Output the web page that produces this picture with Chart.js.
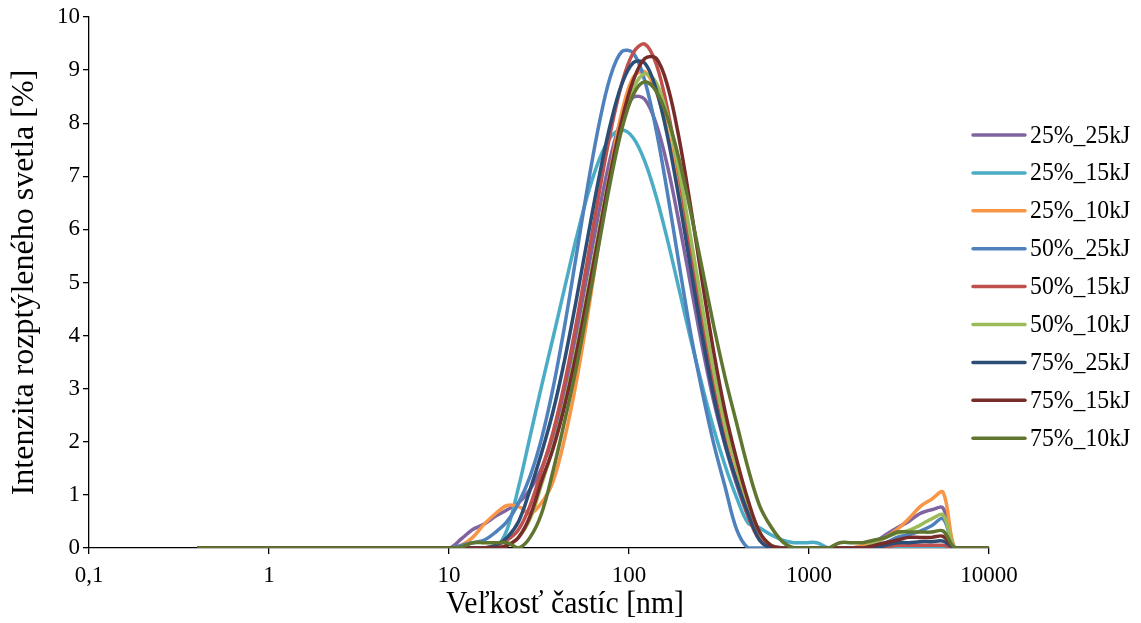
<!DOCTYPE html>
<html><head><meta charset="utf-8">
<script src="https://cdn.jsdelivr.net/npm/chart.js@4.4.1/dist/chart.umd.min.js"></script>
<style>html,body{margin:0;padding:0;background:#fff;}#wrap{width:1141px;height:623px;position:relative;}</style>
</head><body><div id="wrap"><canvas id="c"></canvas></div>
<script>
// particle size bins [nm]
const sizes = [0.4,0.4632,0.5365,0.6213,0.7195,0.8332,0.9649,1.117,1.294,1.499,1.736,2.01,2.328,2.696,3.122,3.615,4.187,4.849,5.615,6.503,7.531,8.721,10.1,11.7,13.54,15.69,18.17,21.04,24.36,28.21,32.67,37.84,43.82,50.75,58.77,68.06,78.82,91.28,105.7,122.4,141.8,164.2,190.1,220.2,255,295.3,342,396.1,458.7,531.2,615.1,712.4,825,955.4,1106,1281,1484,1718,1990,2305,2669,3091,3580,4145,4801,5560,6439,7456,8635,10000];

const seriesNames = ['25%_25kJ','25%_15kJ','25%_10kJ','50%_25kJ','50%_15kJ','50%_10kJ','75%_25kJ','75%_15kJ','75%_10kJ'];

const s25_25kJ = [0,0,0,0,0,0,0,0,0,0,0,0,0,0,0,0,0,0,0,0,0,0,
 0,0.17,0.35,0.45,0.6,0.72,0.85,1.1,1.5,2.1,2.96,4.01,5.17,6.32,7.35,8.11,8.49,8.45,7.98,7.17,6.11,4.95,3.8,2.77,1.93,1.2,0.6,0.2,0.05,0,0,0,0,0,0,0,0,0.1,0.25,0.38,0.5,0.65,0.72,0.75,0,0,0,0];
const s25_15kJ = [0,0,0,0,0,0,0,0,0,0,0,0,0,0,0,0,0,0,0,0,0,0,
 0,0,0,0,0,0.35,1.15,2.1,3.05,3.96,4.89,5.81,6.64,7.3,7.73,7.87,7.72,7.28,6.61,5.78,4.86,3.93,3.06,2.25,1.55,0.95,0.47,0.38,0.25,0.15,0.1,0.1,0.1,0,0,0,0,0,0,0,0,0,0,0,0,0,0];
const s25_10kJ = [0,0,0,0,0,0,0,0,0,0,0,0,0,0,0,0,0,0,0,0,0,0,
 0,0.05,0.2,0.45,0.65,0.8,0.78,0.65,0.85,1.25,2.05,3.09,4.36,5.75,7.1,8.21,8.87,8.97,8.59,7.81,6.75,5.53,4.31,3.18,2.24,1.49,0.8,0.25,0,0,0,0,0,0,0,0,0.05,0.1,0.2,0.35,0.55,0.78,0.92,1.05,0,0,0,0];
const s50_25kJ = [0,0,0,0,0,0,0,0,0,0,0,0,0,0,0,0,0,0,0,0,0,0,
 0,0.05,0.1,0.15,0.3,0.5,0.85,1.35,2.06,3.01,4.17,5.47,6.79,7.97,8.88,9.35,9.32,8.8,7.86,6.65,5.33,4.04,2.95,1.97,1.15,0.35,0,0,0,0,0,0,0,0,0,0,0,0.05,0.1,0.2,0.25,0.32,0.42,0.55,0,0,0,0];
const s50_15kJ = [0,0,0,0,0,0,0,0,0,0,0,0,0,0,0,0,0,0,0,0,0,0,
 0,0,0,0,0.05,0.15,0.35,0.8,1.46,2.18,3.1,4.2,5.42,6.66,7.82,8.75,9.33,9.49,9.11,8.24,7.02,5.62,4.24,3.01,2.01,1.27,0.6,0.15,0,0,0,0,0,0,0,0,0,0,0.02,0.05,0.05,0.05,0.05,0.05,0,0,0,0];
const s50_10kJ = [0,0,0,0,0,0,0,0,0,0,0,0,0,0,0,0,0,0,0,0,0,0,
 0,0,0,0,0,0.05,0.2,0.55,1.2,1.9,2.72,3.71,4.82,5.98,7.09,8.02,8.66,8.93,8.76,8.11,7.09,5.85,4.55,3.34,2.32,1.52,0.85,0.3,0.05,0,0,0,0,0,0,0,0,0.1,0.2,0.28,0.33,0.43,0.55,0.62,0,0,0,0];
const s75_25kJ = [0,0,0,0,0,0,0,0,0,0,0,0,0,0,0,0,0,0,0,0,0,0,
 0,0,0,0,0.05,0.2,0.5,1.1,1.79,2.57,3.53,4.64,5.82,6.97,7.98,8.74,9.14,9.13,8.63,7.73,6.56,5.27,4.0,2.87,1.96,1.26,0.65,0.15,0,0,0,0,0,0,0,0,0,0,0.05,0.1,0.1,0.12,0.12,0.13,0,0,0,0];
const s75_15kJ = [0,0,0,0,0,0,0,0,0,0,0,0,0,0,0,0,0,0,0,0,0,0,
 0,0,0,0,0,0.05,0.2,0.6,1.26,1.87,2.67,3.63,4.74,5.9,7.05,8.06,8.81,9.22,9.22,8.69,7.7,6.42,5.03,3.7,2.57,1.67,0.9,0.3,0.05,0,0,0,0,0,0,0,0,0.05,0.1,0.15,0.2,0.2,0.2,0.22,0,0,0,0];
const s75_10kJ = [0,0,0,0,0,0,0,0,0,0,0,0,0,0,0,0,0,0,0,0,0,0,
 0,0.02,0.1,0.1,0.1,0.1,0,0.2,0.65,1.45,2.38,3.37,4.51,5.72,6.9,7.89,8.54,8.78,8.6,8.09,7.31,6.33,5.26,4.19,3.21,2.35,1.5,0.8,0.4,0.12,0,0,0,0,0.1,0.1,0.1,0.15,0.2,0.3,0.3,0.3,0.3,0.32,0,0,0,0];

const seriesValues = [s25_25kJ,s25_15kJ,s25_10kJ,s50_25kJ,s50_15kJ,s50_10kJ,s75_25kJ,s75_15kJ,s75_10kJ];
const seriesColors = ['#8064A2','#4BACC6','#F79646','#4F81BD','#C0504D','#9BBB59','#2C4D75','#772C2A','#5F7530'];

const xTickValues = [0.1,1,10,100,1000,10000];
const xTickLabels = ['0,1','1','10','100','1000','10000'];
const xTitle = 'Veľkosť častíc [nm]';
const yTitle = 'Intenzita rozptýleného svetla [%]';

const FONT = '"Liberation Serif", "Times New Roman", serif';

const datasets = seriesNames.map((name, i) => ({
  label: name,
  data: sizes.map((x, j) => ({x: x, y: seriesValues[i][j]})),
  borderColor: seriesColors[i],
  backgroundColor: seriesColors[i],
  borderWidth: 3.5,
  pointRadius: 0,
  tension: 0.35,
  fill: false,
  order: seriesNames.length - i
}));

// legend at the right (overlapping the plot edge, as in the original) + x-axis title
const sideLegend = {
  id: 'sideLegend',
  afterDraw(chart) {
    const ctx = chart.ctx;
    ctx.save();
    chart.data.datasets.forEach((ds, i) => {
      const y = 135 + i * 37.9;
      ctx.strokeStyle = ds.borderColor;
      ctx.lineWidth = 3.5;
      ctx.lineCap = 'round';
      ctx.beginPath();
      ctx.moveTo(973, y);
      ctx.lineTo(1025, y);
      ctx.stroke();
      ctx.save();
      ctx.translate(1030, y + 1);
      ctx.scale(0.95, 1);
      ctx.font = '25px ' + FONT;
      ctx.textBaseline = 'middle';
      ctx.textAlign = 'left';
      ctx.fillStyle = '#000';
      ctx.fillText(ds.label, 0, 0);
      ctx.restore();
    });
    // x-axis title
    ctx.save();
    ctx.translate(565, 605);
    ctx.scale(0.93, 1);
    ctx.font = '32px ' + FONT;
    ctx.textAlign = 'center';
    ctx.textBaseline = 'middle';
    ctx.fillStyle = '#000';
    ctx.fillText(xTitle, 0, 0);
    ctx.restore();
    ctx.restore();
  }
};

new Chart(document.getElementById('c'), {
  type: 'line',
  data: { datasets },
  plugins: [sideLegend],
  options: {
    responsive: true,
    maintainAspectRatio: false,
    animation: false,
    layout: { padding: { left: 0, right: 152, top: 17, bottom: 0 } },
    plugins: { legend: { display: false }, tooltip: { enabled: false } },
    scales: {
      x: {
        type: 'logarithmic',
        min: 0.1,
        max: 10000,
        afterBuildTicks: (axis) => { axis.ticks = xTickValues.map(v => ({ value: v })); },
        afterFit: (s) => { s.height = 75; },
        ticks: {
          autoSkip: false, maxRotation: 0, minRotation: 0, padding: 8,
          color: '#000',
          font: { family: FONT, size: 23 },
          callback: (value, index) => xTickLabels[index]
        },
        grid: { drawOnChartArea: false, drawTicks: true, tickLength: 6, color: '#000', lineWidth: 1.3 },
        border: { display: true, color: '#000', width: 1.3 },
        title: { display: false, text: xTitle }
      },
      y: {
        type: 'linear',
        min: 0,
        max: 10,
        afterFit: (s) => { s.width = 89; },
        ticks: {
          stepSize: 1, padding: 3, color: '#000',
          font: { family: FONT, size: 23 }
        },
        grid: { drawOnChartArea: false, drawTicks: true, tickLength: 6, color: '#000', lineWidth: 1.3 },
        border: { display: true, color: '#000', width: 1.3 },
        title: { display: true, text: yTitle, color: '#000', font: { family: FONT, size: 32 }, padding: { top: 5, bottom: 0 } }
      }
    }
  }
});
</script>
</body></html>
